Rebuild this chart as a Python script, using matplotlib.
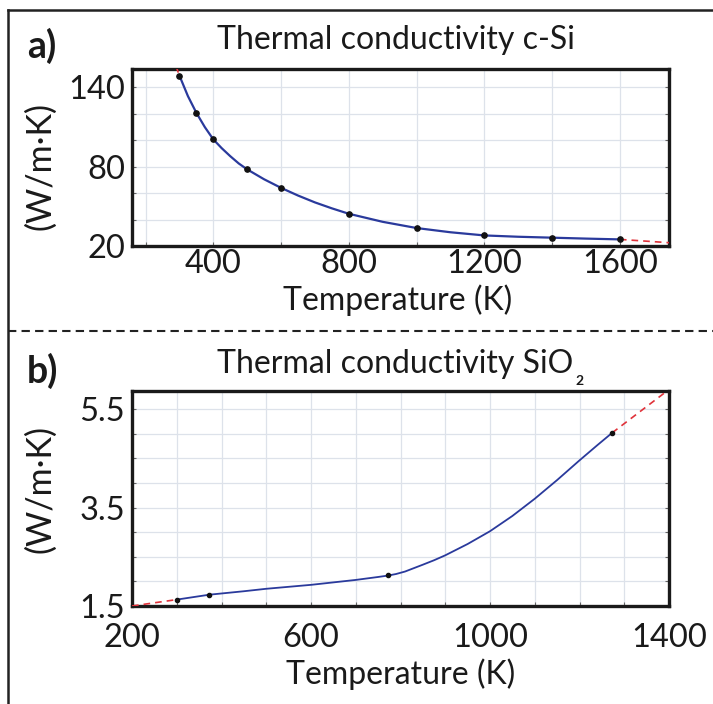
import matplotlib
matplotlib.use("Agg")
import matplotlib.pyplot as plt
from matplotlib.lines import Line2D
from matplotlib.ticker import MultipleLocator, FixedLocator

plt.rcParams['font.family'] = ['Lato', 'DejaVu Sans']

# ---- Panel a: c-Si ----
si_pts_T = [300, 350, 400, 500, 600, 800, 1000, 1200, 1400, 1600]
si_pts_k = [149, 120.8, 100.7, 78, 64, 44.4, 33.6, 28, 26.3, 25]
si_curve_T = [300, 325, 350, 375, 400, 425, 450, 475, 500, 550, 600, 650, 700, 750,
              800, 900, 1000, 1100, 1200, 1300, 1400, 1500, 1600]
si_curve_k = [149, 133.5, 120.8, 110, 100.7, 94, 88, 82.5, 78, 70.5, 64, 58.2, 53, 48.5,
              44.4, 38.3, 33.6, 30.4, 28, 27, 26.3, 25.6, 25]
si_ext_lo_T = [290, 300]
si_ext_lo_k = [156, 149]
si_ext_hi_T = [1600, 1745]
si_ext_hi_k = [25, 22.5]
si_xticks = [400, 800, 1200, 1600]
si_yticks = [20, 80, 140]

# ---- Panel b: SiO2 ----
ox_pts_T = [300, 373, 773, 1273]
ox_pts_k = [1.63, 1.73, 2.12, 5.02]
ox_curve_T = [300, 373, 450, 500, 600, 700, 750, 773, 790, 810, 830, 850, 875, 900,
              950, 1000, 1050, 1100, 1150, 1200, 1240, 1273]
ox_curve_k = [1.63, 1.73, 1.80, 1.85, 1.93, 2.03, 2.09, 2.12, 2.15, 2.20, 2.27, 2.34,
              2.43, 2.53, 2.76, 3.02, 3.33, 3.68, 4.06, 4.46, 4.77, 5.02]
ox_ext_lo_T = [200, 300]
ox_ext_lo_k = [1.50, 1.63]
ox_ext_hi_T = [1273, 1410]
ox_ext_hi_k = [5.02, 5.97]
ox_xticks = [200, 600, 1000, 1400]
ox_yticks = [1.5, 3.5, 5.5]

W, H = 713, 704
fig = plt.figure(figsize=(W / 100, H / 100), dpi=100)


def fx(px):
    return px / W


def fy(py):
    return 1 - py / H


BLUE = '#2a3a9c'
RED = '#e0323a'
GRID = '#dde2ea'
TFS = 23      # titles / axis labels
KFS = 23.5    # tick labels


def style(ax, xminor, yminor, xpad, ypad):
    ax.xaxis.set_minor_locator(MultipleLocator(xminor))
    ax.yaxis.set_minor_locator(MultipleLocator(yminor))
    ax.grid(True, which='both', color=GRID, lw=0.9, zorder=0)
    ax.set_axisbelow(True)
    for s in ax.spines.values():
        s.set_linewidth(2.4)
        s.set_color('#1a1a1a')
    ax.tick_params(which='both', direction='in', length=3, width=0.8, color='#666666',
                   left=True, right=True, bottom=True, top=False)
    ax.tick_params(axis='x', which='major', labelsize=KFS, pad=xpad)
    ax.tick_params(axis='y', which='major', labelsize=KFS, pad=ypad)


# Panel a axes
axa = fig.add_axes([fx(132), fy(246), fx(669) - fx(132), fy(69) - fy(246)])
axa.plot(si_curve_T, si_curve_k, color=BLUE, lw=1.6, zorder=3)
axa.plot(si_ext_lo_T, si_ext_lo_k, color=RED, lw=1.2, ls=(0, (4, 3)), zorder=3)
axa.plot(si_ext_hi_T, si_ext_hi_k, color=RED, lw=1.2, ls=(0, (4, 3)), zorder=3)
axa.plot(si_pts_T, si_pts_k, 'o', color='#111111', ms=3.8, zorder=4)
axa.set_xlim(160, 1745)
axa.set_ylim(20, 154)
axa.xaxis.set_major_locator(FixedLocator(si_xticks))
axa.yaxis.set_major_locator(FixedLocator(si_yticks))
style(axa, 200, 20, 2, 5)

# Panel b axes
axb = fig.add_axes([fx(132), fy(606), fx(669) - fx(132), fy(391) - fy(606)])
axb.plot(ox_curve_T, ox_curve_k, color=BLUE, lw=1.3, zorder=3)
axb.plot(ox_ext_lo_T, ox_ext_lo_k, color=RED, lw=1.2, ls=(0, (4, 3)), zorder=3)
axb.plot(ox_ext_hi_T, ox_ext_hi_k, color=RED, lw=1.2, ls=(0, (4, 3)), zorder=3)
axb.plot(ox_pts_T, ox_pts_k, 'o', color='#111111', ms=3.0, zorder=4)
axb.set_xlim(200, 1400)
axb.set_ylim(1.5, 5.87)
axb.xaxis.set_major_locator(FixedLocator(ox_xticks))
axb.yaxis.set_major_locator(FixedLocator(ox_yticks))
axb.set_xticklabels([str(v) for v in ox_xticks])
axb.set_yticklabels([f"{v:.1f}" for v in ox_yticks])
style(axb, 100, 0.5, 12, 5)
for c in [axa, axb]:
    for lbl in c.get_xticklabels() + c.get_yticklabels():
        lbl.set_color('#1a1a1a')

# Texts
TXT = '#1a1a1a'
fig.text(fx(27), fy(58), 'a)', fontsize=27, fontweight='bold', color=TXT,
         ha='left', va='baseline')
fig.text(fx(27), fy(383), 'b)', fontsize=27, fontweight='bold', color=TXT,
         ha='left', va='baseline')
fig.text(fx(396), fy(49), 'Thermal conductivity c-Si', fontsize=TFS, color=TXT,
         ha='center', va='baseline')
tb = fig.text(fx(395), fy(373), 'Thermal conductivity SiO', fontsize=TFS, color=TXT,
              ha='center', va='baseline')
fig.canvas.draw()
bb = tb.get_window_extent(renderer=fig.canvas.get_renderer())
fig.text((bb.x1 + 6) / W, fy(385), '2', fontsize=10, fontweight='bold', color=TXT,
         ha='center', va='baseline')
fig.text(fx(398), fy(310), 'Temperature (K)', fontsize=TFS, color=TXT,
         ha='center', va='baseline')
fig.text(fx(401), fy(684), 'Temperature (K)', fontsize=TFS, color=TXT,
         ha='center', va='baseline')
fig.text(fx(40), fy(166), '(W/m·K)', fontsize=24.5, color=TXT, rotation=90,
         ha='center', va='center')
fig.text(fx(40), fy(489), '(W/m·K)', fontsize=24.5, color=TXT, rotation=90,
         ha='center', va='center')

# Frame lines
fig.add_artist(Line2D([fx(8), fx(713)], [fy(10), fy(10)], color='#222222', lw=1.8))
fig.add_artist(Line2D([fx(8), fx(8)], [fy(10), fy(704)], color='#222222', lw=1.8))
fig.add_artist(Line2D([fx(8), fx(713)], [fy(331), fy(331)], color='#222222', lw=1.5,
                      ls=(0, (4, 2.5))))

fig.savefig('out.png', dpi=100)
